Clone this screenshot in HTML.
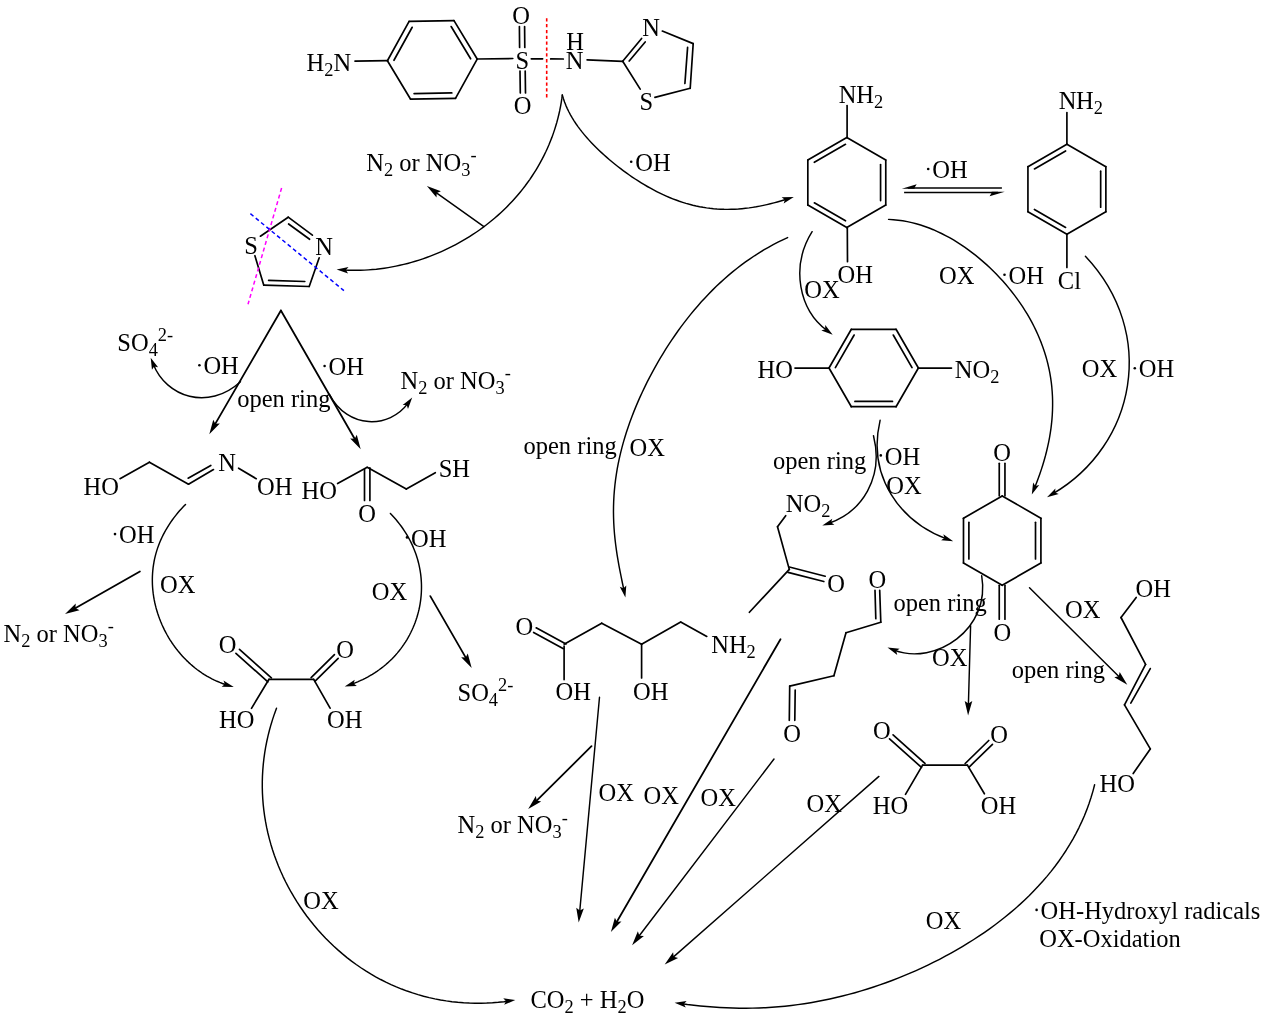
<!DOCTYPE html>
<html><head><meta charset="utf-8"><title>Degradation pathway</title>
<style>
html,body{margin:0;padding:0;background:#fff;}
svg{display:block;}
.t{filter:grayscale(1);}
text{font-family:"Liberation Serif",serif;fill:#000;}
</style></head><body>
<svg width="1266" height="1023" viewBox="0 0 1266 1023">
<rect width="1266" height="1023" fill="#fff"/>
<g>
<line x1="355.00" y1="61.20" x2="387.50" y2="60.70" stroke="#000" stroke-width="1.68" stroke-linecap="round"/>
<line x1="477.19" y1="59.04" x2="455.49" y2="98.35" stroke="#000" stroke-width="1.68" stroke-linecap="round"/>
<line x1="455.49" y1="98.35" x2="410.60" y2="99.21" stroke="#000" stroke-width="1.68" stroke-linecap="round"/>
<line x1="451.80" y1="92.92" x2="414.09" y2="93.64" stroke="#000" stroke-width="1.68" stroke-linecap="round"/>
<line x1="410.60" y1="99.21" x2="387.41" y2="60.76" stroke="#000" stroke-width="1.68" stroke-linecap="round"/>
<line x1="387.41" y1="60.76" x2="409.11" y2="21.45" stroke="#000" stroke-width="1.68" stroke-linecap="round"/>
<line x1="393.96" y1="60.28" x2="412.19" y2="27.26" stroke="#000" stroke-width="1.68" stroke-linecap="round"/>
<line x1="409.11" y1="21.45" x2="454.00" y2="20.59" stroke="#000" stroke-width="1.68" stroke-linecap="round"/>
<line x1="454.00" y1="20.59" x2="477.19" y2="59.04" stroke="#000" stroke-width="1.68" stroke-linecap="round"/>
<line x1="451.15" y1="26.51" x2="470.63" y2="58.80" stroke="#000" stroke-width="1.68" stroke-linecap="round"/>
<line x1="477.20" y1="59.00" x2="512.80" y2="58.50" stroke="#000" stroke-width="1.68" stroke-linecap="round"/>
<line x1="519.40" y1="26.50" x2="519.60" y2="47.50" stroke="#000" stroke-width="1.68" stroke-linecap="round"/>
<line x1="524.60" y1="26.50" x2="524.80" y2="47.50" stroke="#000" stroke-width="1.68" stroke-linecap="round"/>
<line x1="520.00" y1="71.00" x2="520.30" y2="93.00" stroke="#000" stroke-width="1.68" stroke-linecap="round"/>
<line x1="525.20" y1="71.00" x2="525.50" y2="93.00" stroke="#000" stroke-width="1.68" stroke-linecap="round"/>
<line x1="531.30" y1="58.80" x2="542.60" y2="58.80" stroke="#000" stroke-width="1.68" stroke-linecap="round"/>
<line x1="550.70" y1="58.90" x2="563.30" y2="59.00" stroke="#000" stroke-width="1.68" stroke-linecap="round"/>
<line x1="546.70" y1="18.20" x2="546.70" y2="97.40" stroke="#f00" stroke-width="1.6" stroke-linecap="butt" stroke-dasharray="3.3,2.54"/>
<line x1="587.10" y1="59.80" x2="622.70" y2="61.30" stroke="#000" stroke-width="1.68" stroke-linecap="round"/>
<line x1="622.70" y1="61.30" x2="641.60" y2="38.50" stroke="#000" stroke-width="1.68" stroke-linecap="round"/>
<line x1="629.20" y1="61.00" x2="645.20" y2="42.00" stroke="#000" stroke-width="1.68" stroke-linecap="round"/>
<line x1="662.30" y1="31.00" x2="693.20" y2="43.60" stroke="#000" stroke-width="1.68" stroke-linecap="round"/>
<line x1="693.20" y1="43.60" x2="690.20" y2="88.30" stroke="#000" stroke-width="1.68" stroke-linecap="round"/>
<line x1="687.60" y1="47.40" x2="684.90" y2="83.50" stroke="#000" stroke-width="1.68" stroke-linecap="round"/>
<line x1="690.20" y1="88.30" x2="654.90" y2="97.40" stroke="#000" stroke-width="1.68" stroke-linecap="round"/>
<line x1="640.20" y1="89.10" x2="622.70" y2="61.30" stroke="#000" stroke-width="1.68" stroke-linecap="round"/>
<path d="M562.30,95.00 L561.78,98.93 L561.17,102.85 L560.48,106.75 L559.70,110.65 L558.83,114.53 L557.88,118.39 L556.85,122.24 L555.73,126.06 L554.53,129.86 L553.25,133.63 L551.89,137.38 L550.45,141.09 L548.94,144.78 L547.34,148.43 L545.68,152.04 L543.93,155.62 L542.11,159.16 L540.22,162.67 L538.26,166.13 L536.23,169.55 L534.13,172.93 L531.96,176.26 L529.73,179.55 L527.42,182.79 L525.06,185.99 L522.63,189.13 L520.14,192.23 L517.58,195.28 L514.97,198.27 L512.30,201.21 L509.57,204.11 L506.79,206.94 L503.95,209.73 L501.06,212.45 L498.12,215.13 L495.12,217.75 L492.08,220.31 L488.99,222.81 L485.85,225.26 L482.67,227.64 L479.44,229.97 L476.17,232.24 L472.85,234.45 L469.50,236.60 L466.11,238.69 L462.68,240.71 L459.21,242.68 L455.71,244.58 L452.18,246.42 L448.61,248.20 L445.01,249.91 L441.38,251.56 L437.73,253.15 L434.04,254.67 L430.33,256.12 L426.60,257.51 L422.84,258.83 L419.06,260.08 L415.25,261.26 L411.43,262.38 L407.59,263.43 L403.73,264.40 L399.86,265.31 L395.97,266.14 L392.07,266.90 L388.15,267.59 L384.23,268.20 L380.29,268.74 L376.34,269.21 L372.39,269.59 L368.42,269.90 L364.46,270.13 L360.48,270.28 L356.51,270.34 L352.53,270.32 L348.55,270.22 L344.56,270.04 L343.60,269.88" fill="none" stroke="#000" stroke-width="1.45" stroke-linecap="round" stroke-linejoin="round"/>
<polygon points="336.60,269.40 348.50,266.91 345.94,270.04 348.05,273.50" fill="#000"/>
<path d="M562.30,95.00 L563.36,98.55 L564.55,101.99 L565.86,105.34 L567.30,108.59 L568.84,111.77 L570.48,114.87 L572.23,117.90 L574.06,120.86 L575.98,123.77 L577.98,126.61 L580.06,129.41 L582.21,132.15 L584.43,134.85 L586.70,137.50 L589.04,140.12 L591.43,142.69 L593.88,145.23 L596.37,147.72 L598.91,150.19 L601.50,152.62 L604.12,155.01 L606.78,157.38 L609.49,159.70 L612.22,162.00 L614.99,164.26 L617.79,166.48 L620.63,168.67 L623.49,170.82 L626.38,172.93 L629.30,175.00 L632.24,177.03 L635.22,179.02 L638.21,180.96 L641.24,182.85 L644.28,184.70 L647.35,186.50 L650.45,188.24 L653.57,189.93 L656.71,191.57 L659.88,193.14 L663.06,194.65 L666.28,196.10 L669.51,197.49 L672.77,198.80 L676.05,200.05 L679.35,201.23 L682.67,202.33 L686.02,203.36 L689.39,204.31 L692.77,205.18 L696.18,205.97 L699.61,206.68 L703.06,207.31 L706.53,207.86 L710.01,208.32 L713.51,208.70 L717.03,209.00 L720.56,209.21 L724.10,209.33 L727.66,209.37 L731.22,209.32 L734.79,209.20 L738.37,208.99 L741.95,208.70 L745.54,208.33 L749.12,207.89 L752.69,207.37 L756.26,206.79 L759.82,206.13 L763.36,205.41 L766.88,204.64 L770.38,203.80 L773.85,202.92 L777.29,201.99 L780.69,201.03 L784.04,200.03 L787.11,199.04" fill="none" stroke="#000" stroke-width="1.45" stroke-linecap="round" stroke-linejoin="round"/>
<polygon points="793.80,196.90 783.67,203.61 784.89,199.76 781.65,197.33" fill="#000"/>
<line x1="483.90" y1="226.60" x2="433.99" y2="191.05" stroke="#000" stroke-width="1.45" stroke-linecap="round"/>
<polygon points="426.90,186.00 440.91,191.32 436.70,192.98 436.51,197.51" fill="#000"/>
<circle cx="631.20" cy="161.80" r="1.3" fill="#000"/>
<line x1="260.40" y1="236.20" x2="288.20" y2="217.20" stroke="#000" stroke-width="1.68" stroke-linecap="round"/>
<line x1="288.20" y1="217.20" x2="312.40" y2="235.20" stroke="#000" stroke-width="1.68" stroke-linecap="round"/>
<line x1="288.60" y1="224.00" x2="309.60" y2="239.30" stroke="#000" stroke-width="1.68" stroke-linecap="round"/>
<line x1="319.20" y1="257.80" x2="309.20" y2="286.50" stroke="#000" stroke-width="1.68" stroke-linecap="round"/>
<line x1="309.20" y1="286.50" x2="263.80" y2="285.20" stroke="#000" stroke-width="1.68" stroke-linecap="round"/>
<line x1="304.80" y1="281.50" x2="268.60" y2="280.40" stroke="#000" stroke-width="1.68" stroke-linecap="round"/>
<line x1="263.80" y1="285.20" x2="254.90" y2="255.70" stroke="#000" stroke-width="1.68" stroke-linecap="round"/>
<line x1="281.60" y1="188.00" x2="248.00" y2="304.30" stroke="#f0f" stroke-width="1.5" stroke-linecap="butt" stroke-dasharray="4,2.9"/>
<line x1="250.40" y1="213.70" x2="343.90" y2="290.60" stroke="#00f" stroke-width="1.5" stroke-linecap="butt" stroke-dasharray="4,2.9"/>
<line x1="280.90" y1="310.50" x2="213.66" y2="426.67" stroke="#000" stroke-width="1.78" stroke-linecap="round"/>
<polygon points="209.30,434.20 213.28,419.75 215.33,423.78 219.85,423.55" fill="#000"/>
<line x1="280.90" y1="310.50" x2="356.36" y2="441.76" stroke="#000" stroke-width="1.78" stroke-linecap="round"/>
<polygon points="360.70,449.30 350.18,438.62 354.70,438.87 356.77,434.84" fill="#000"/>
<path d="M240.50,381.70 C207.93,411.32 166.23,396.84 153.29,364.23" fill="none" stroke="#000" stroke-width="1.45" stroke-linecap="round"/>
<polygon points="150.70,357.70 158.08,367.36 154.15,366.40 151.95,369.79" fill="#000"/>
<path d="M329.40,394.30 C347.69,429.50 389.47,428.80 408.08,403.18" fill="none" stroke="#000" stroke-width="1.45" stroke-linecap="round"/>
<polygon points="412.20,397.50 408.00,408.91 406.70,405.07 402.66,405.03" fill="#000"/>
<circle cx="199.40" cy="365.20" r="1.3" fill="#000"/>
<circle cx="324.60" cy="366.00" r="1.3" fill="#000"/>
<line x1="120.00" y1="478.70" x2="149.40" y2="462.20" stroke="#000" stroke-width="1.68" stroke-linecap="round"/>
<line x1="149.40" y1="462.20" x2="188.50" y2="484.20" stroke="#000" stroke-width="1.68" stroke-linecap="round"/>
<line x1="188.50" y1="484.20" x2="213.50" y2="469.60" stroke="#000" stroke-width="1.68" stroke-linecap="round"/>
<line x1="188.10" y1="478.20" x2="210.80" y2="465.40" stroke="#000" stroke-width="1.68" stroke-linecap="round"/>
<line x1="238.60" y1="468.20" x2="256.20" y2="478.70" stroke="#000" stroke-width="1.68" stroke-linecap="round"/>
<line x1="337.60" y1="483.60" x2="367.20" y2="467.30" stroke="#000" stroke-width="1.68" stroke-linecap="round"/>
<line x1="364.50" y1="469.50" x2="364.50" y2="500.50" stroke="#000" stroke-width="1.68" stroke-linecap="round"/>
<line x1="369.90" y1="467.80" x2="369.90" y2="500.50" stroke="#000" stroke-width="1.68" stroke-linecap="round"/>
<line x1="367.20" y1="467.30" x2="406.30" y2="489.00" stroke="#000" stroke-width="1.68" stroke-linecap="round"/>
<line x1="406.30" y1="489.00" x2="435.30" y2="472.70" stroke="#000" stroke-width="1.68" stroke-linecap="round"/>
<path d="M185.50,504.40 L183.47,506.51 L181.49,508.65 L179.54,510.84 L177.65,513.07 L175.80,515.34 L174.01,517.65 L172.27,520.00 L170.59,522.38 L168.98,524.81 L167.43,527.27 L165.94,529.76 L164.53,532.29 L163.18,534.85 L161.91,537.45 L160.72,540.08 L159.60,542.73 L158.55,545.41 L157.59,548.12 L156.71,550.86 L155.90,553.62 L155.18,556.39 L154.53,559.19 L153.97,562.01 L153.50,564.84 L153.10,567.69 L152.79,570.55 L152.56,573.42 L152.41,576.30 L152.34,579.18 L152.36,582.07 L152.45,584.96 L152.63,587.86 L152.89,590.75 L153.22,593.63 L153.64,596.51 L154.13,599.39 L154.70,602.25 L155.35,605.10 L156.07,607.93 L156.87,610.75 L157.73,613.55 L158.67,616.33 L159.68,619.09 L160.76,621.81 L161.91,624.52 L163.13,627.19 L164.41,629.83 L165.75,632.44 L167.16,635.01 L168.63,637.54 L170.16,640.03 L171.75,642.48 L173.40,644.89 L175.10,647.25 L176.87,649.57 L178.68,651.83 L180.55,654.04 L182.47,656.20 L184.45,658.31 L186.47,660.36 L188.55,662.35 L190.67,664.29 L192.84,666.16 L195.06,667.97 L197.32,669.72 L199.64,671.40 L201.99,673.02 L204.39,674.57 L206.84,676.05 L209.33,677.46 L211.87,678.81 L214.45,680.08 L217.08,681.29 L219.75,682.42 L222.47,683.48 L225.23,684.47 L227.07,685.01" fill="none" stroke="#000" stroke-width="1.45" stroke-linecap="round" stroke-linejoin="round"/>
<polygon points="233.80,687.00 221.64,686.85 224.82,684.35 223.51,680.52" fill="#000"/>
<path d="M390.40,513.40 L392.29,515.41 L394.14,517.47 L395.94,519.55 L397.69,521.68 L399.39,523.84 L401.05,526.05 L402.65,528.28 L404.19,530.56 L405.68,532.86 L407.10,535.21 L408.47,537.58 L409.78,539.99 L411.02,542.43 L412.20,544.90 L413.31,547.41 L414.35,549.93 L415.33,552.49 L416.24,555.07 L417.07,557.67 L417.84,560.30 L418.54,562.95 L419.16,565.61 L419.71,568.29 L420.18,570.99 L420.59,573.70 L420.92,576.42 L421.17,579.15 L421.35,581.89 L421.46,584.64 L421.49,587.38 L421.44,590.13 L421.33,592.88 L421.13,595.62 L420.86,598.36 L420.52,601.09 L420.11,603.82 L419.62,606.53 L419.05,609.23 L418.42,611.91 L417.71,614.57 L416.93,617.22 L416.08,619.84 L415.16,622.44 L414.17,625.01 L413.12,627.55 L411.99,630.06 L410.80,632.54 L409.54,634.99 L408.22,637.40 L406.83,639.77 L405.38,642.11 L403.87,644.40 L402.30,646.65 L400.67,648.85 L398.98,651.01 L397.23,653.12 L395.43,655.18 L393.57,657.19 L391.66,659.15 L389.70,661.06 L387.69,662.91 L385.63,664.71 L383.52,666.45 L381.37,668.14 L379.17,669.77 L376.93,671.34 L374.65,672.86 L372.34,674.31 L369.98,675.71 L367.59,677.05 L365.16,678.33 L362.70,679.55 L360.21,680.71 L357.68,681.82 L355.14,682.86 L352.56,683.86 L351.35,684.26" fill="none" stroke="#000" stroke-width="1.45" stroke-linecap="round" stroke-linejoin="round"/>
<polygon points="344.70,686.50 354.74,679.64 353.57,683.52 356.84,685.90" fill="#000"/>
<line x1="139.90" y1="571.40" x2="72.56" y2="609.70" stroke="#000" stroke-width="1.78" stroke-linecap="round"/>
<polygon points="65.00,614.00 75.73,603.53 75.46,608.05 79.48,610.13" fill="#000"/>
<line x1="430.30" y1="596.10" x2="467.35" y2="660.36" stroke="#000" stroke-width="1.78" stroke-linecap="round"/>
<polygon points="471.70,667.90 461.17,657.24 465.69,657.47 467.75,653.44" fill="#000"/>
<circle cx="115.00" cy="534.10" r="1.3" fill="#000"/>
<circle cx="407.00" cy="537.40" r="1.3" fill="#000"/>
<line x1="269.00" y1="679.30" x2="313.70" y2="679.30" stroke="#000" stroke-width="1.68" stroke-linecap="round"/>
<line x1="235.93" y1="653.27" x2="267.83" y2="681.87" stroke="#000" stroke-width="1.68" stroke-linecap="round"/>
<line x1="239.47" y1="649.33" x2="271.37" y2="677.93" stroke="#000" stroke-width="1.68" stroke-linecap="round"/>
<line x1="334.44" y1="654.61" x2="311.14" y2="677.61" stroke="#000" stroke-width="1.68" stroke-linecap="round"/>
<line x1="338.16" y1="658.39" x2="314.86" y2="681.39" stroke="#000" stroke-width="1.68" stroke-linecap="round"/>
<line x1="269.00" y1="679.30" x2="251.50" y2="708.40" stroke="#000" stroke-width="1.68" stroke-linecap="round"/>
<line x1="313.70" y1="679.30" x2="330.10" y2="708.20" stroke="#000" stroke-width="1.68" stroke-linecap="round"/>
<path d="M276.50,708.20 L274.52,713.64 L272.68,719.13 L270.98,724.67 L269.43,730.25 L268.02,735.86 L266.76,741.51 L265.65,747.19 L264.70,752.89 L263.91,758.61 L263.27,764.34 L262.79,770.09 L262.46,775.85 L262.30,781.61 L262.29,787.37 L262.44,793.12 L262.76,798.87 L263.22,804.61 L263.85,810.34 L264.63,816.04 L265.56,821.73 L266.65,827.38 L267.89,833.01 L269.28,838.61 L270.82,844.17 L272.51,849.69 L274.34,855.17 L276.31,860.59 L278.42,865.97 L280.68,871.30 L283.07,876.56 L285.59,881.77 L288.25,886.91 L291.04,891.98 L293.96,896.99 L297.00,901.91 L300.17,906.76 L303.46,911.52 L306.86,916.20 L310.39,920.80 L314.02,925.29 L317.78,929.70 L321.64,934.00 L325.60,938.20 L329.68,942.30 L333.85,946.29 L338.13,950.16 L342.50,953.92 L346.97,957.57 L351.53,961.09 L356.18,964.49 L360.92,967.76 L365.75,970.90 L370.65,973.91 L375.64,976.78 L380.70,979.52 L385.84,982.12 L391.05,984.57 L396.32,986.88 L401.66,989.05 L407.07,991.06 L412.52,992.93 L418.04,994.64 L423.60,996.20 L429.21,997.61 L434.86,998.86 L440.55,999.96 L446.27,1000.89 L452.01,1001.68 L457.78,1002.30 L463.57,1002.76 L469.37,1003.07 L475.17,1003.22 L480.97,1003.22 L486.76,1003.06 L492.53,1002.75 L498.28,1002.28 L504.00,1001.67 L508.34,1000.93" fill="none" stroke="#000" stroke-width="1.45" stroke-linecap="round" stroke-linejoin="round"/>
<polygon points="515.30,1000.00 504.14,1004.83 506.02,1001.24 503.27,998.29" fill="#000"/>
<line x1="846.80" y1="227.60" x2="807.83" y2="205.10" stroke="#000" stroke-width="1.68" stroke-linecap="round"/>
<line x1="845.50" y1="220.85" x2="814.33" y2="202.85" stroke="#000" stroke-width="1.68" stroke-linecap="round"/>
<line x1="807.83" y1="205.10" x2="807.83" y2="160.10" stroke="#000" stroke-width="1.68" stroke-linecap="round"/>
<line x1="807.83" y1="160.10" x2="846.80" y2="137.60" stroke="#000" stroke-width="1.68" stroke-linecap="round"/>
<line x1="814.33" y1="162.35" x2="845.50" y2="144.35" stroke="#000" stroke-width="1.68" stroke-linecap="round"/>
<line x1="846.80" y1="137.60" x2="885.77" y2="160.10" stroke="#000" stroke-width="1.68" stroke-linecap="round"/>
<line x1="885.77" y1="160.10" x2="885.77" y2="205.10" stroke="#000" stroke-width="1.68" stroke-linecap="round"/>
<line x1="880.57" y1="164.60" x2="880.57" y2="200.60" stroke="#000" stroke-width="1.68" stroke-linecap="round"/>
<line x1="885.77" y1="205.10" x2="846.80" y2="227.60" stroke="#000" stroke-width="1.68" stroke-linecap="round"/>
<line x1="847.10" y1="105.60" x2="847.10" y2="137.60" stroke="#000" stroke-width="1.68" stroke-linecap="round"/>
<line x1="847.30" y1="227.60" x2="847.50" y2="261.70" stroke="#000" stroke-width="1.68" stroke-linecap="round"/>
<line x1="1066.90" y1="234.15" x2="1027.93" y2="211.65" stroke="#000" stroke-width="1.68" stroke-linecap="round"/>
<line x1="1065.60" y1="227.40" x2="1034.43" y2="209.40" stroke="#000" stroke-width="1.68" stroke-linecap="round"/>
<line x1="1027.93" y1="211.65" x2="1027.93" y2="166.65" stroke="#000" stroke-width="1.68" stroke-linecap="round"/>
<line x1="1027.93" y1="166.65" x2="1066.90" y2="144.15" stroke="#000" stroke-width="1.68" stroke-linecap="round"/>
<line x1="1034.43" y1="168.90" x2="1065.60" y2="150.90" stroke="#000" stroke-width="1.68" stroke-linecap="round"/>
<line x1="1066.90" y1="144.15" x2="1105.87" y2="166.65" stroke="#000" stroke-width="1.68" stroke-linecap="round"/>
<line x1="1105.87" y1="166.65" x2="1105.87" y2="211.65" stroke="#000" stroke-width="1.68" stroke-linecap="round"/>
<line x1="1100.67" y1="171.15" x2="1100.67" y2="207.15" stroke="#000" stroke-width="1.68" stroke-linecap="round"/>
<line x1="1105.87" y1="211.65" x2="1066.90" y2="234.15" stroke="#000" stroke-width="1.68" stroke-linecap="round"/>
<line x1="1066.90" y1="112.50" x2="1066.90" y2="144.10" stroke="#000" stroke-width="1.68" stroke-linecap="round"/>
<line x1="1066.90" y1="234.20" x2="1066.90" y2="267.50" stroke="#000" stroke-width="1.68" stroke-linecap="round"/>
<line x1="908.00" y1="188.00" x2="1001.90" y2="188.00" stroke="#000" stroke-width="1.45" stroke-linecap="butt"/>
<polygon points="901.8,188.75 916.7,184.2 914.6,187.6 914.6,188.75" fill="#000"/>
<line x1="904.10" y1="192.40" x2="998.00" y2="192.40" stroke="#000" stroke-width="1.45" stroke-linecap="butt"/>
<polygon points="1004.8,191.65 989.6,196.2 991.7,192.8 991.7,191.65" fill="#000"/>
<circle cx="928.20" cy="169.00" r="1.3" fill="#000"/>
<circle cx="1004.50" cy="274.80" r="1.3" fill="#000"/>
<path d="M812.10,231.70 C789.99,267.25 799.44,310.16 827.05,330.53" fill="none" stroke="#000" stroke-width="1.45" stroke-linecap="round"/>
<polygon points="832.70,334.70 821.33,330.41 825.17,329.14 825.24,325.10" fill="#000"/>
<path d="M787.60,237.60 L782.77,239.82 L777.96,242.18 L773.18,244.66 L768.44,247.27 L763.74,249.99 L759.09,252.83 L754.50,255.77 L749.98,258.81 L745.52,261.95 L741.13,265.19 L736.81,268.51 L732.57,271.91 L728.40,275.40 L724.31,278.97 L720.29,282.61 L716.35,286.33 L712.48,290.11 L708.69,293.97 L704.98,297.88 L701.33,301.86 L697.76,305.90 L694.26,310.00 L690.83,314.15 L687.47,318.36 L684.17,322.62 L680.94,326.94 L677.78,331.30 L674.68,335.71 L671.64,340.17 L668.66,344.67 L665.75,349.22 L662.90,353.81 L660.11,358.44 L657.38,363.11 L654.72,367.83 L652.12,372.58 L649.58,377.37 L647.11,382.20 L644.70,387.06 L642.37,391.96 L640.10,396.90 L637.91,401.86 L635.79,406.86 L633.75,411.89 L631.78,416.95 L629.91,422.04 L628.11,427.16 L626.41,432.30 L624.80,437.47 L623.28,442.67 L621.86,447.88 L620.54,453.13 L619.33,458.39 L618.22,463.67 L617.22,468.97 L616.34,474.29 L615.57,479.62 L614.92,484.97 L614.39,490.33 L613.98,495.70 L613.69,501.09 L613.52,506.48 L613.47,511.87 L613.55,517.27 L613.74,522.68 L614.04,528.08 L614.46,533.49 L614.99,538.89 L615.62,544.28 L616.34,549.67 L617.15,555.05 L618.04,560.42 L619.00,565.78 L620.02,571.11 L621.08,576.44 L622.16,581.74 L623.26,587.02 L623.99,590.62" fill="none" stroke="#000" stroke-width="1.45" stroke-linecap="round" stroke-linejoin="round"/>
<polygon points="625.40,597.50 619.81,586.70 623.52,588.33 626.28,585.38" fill="#000"/>
<path d="M888.60,219.40 L893.39,219.69 L898.10,220.16 L902.74,220.81 L907.30,221.62 L911.79,222.61 L916.22,223.74 L920.58,225.03 L924.89,226.45 L929.14,228.02 L933.33,229.71 L937.47,231.54 L941.55,233.48 L945.59,235.54 L949.57,237.71 L953.50,239.98 L957.38,242.36 L961.21,244.84 L964.99,247.42 L968.72,250.08 L972.39,252.83 L976.01,255.67 L979.58,258.59 L983.08,261.59 L986.53,264.66 L989.92,267.81 L993.24,271.03 L996.50,274.32 L999.70,277.67 L1002.83,281.09 L1005.88,284.57 L1008.86,288.11 L1011.76,291.71 L1014.59,295.37 L1017.33,299.08 L1019.99,302.85 L1022.57,306.67 L1025.05,310.53 L1027.44,314.45 L1029.74,318.42 L1031.94,322.43 L1034.04,326.49 L1036.04,330.59 L1037.93,334.73 L1039.72,338.92 L1041.40,343.14 L1042.97,347.40 L1044.42,351.70 L1045.76,356.03 L1046.98,360.40 L1048.09,364.80 L1049.08,369.23 L1049.94,373.68 L1050.69,378.16 L1051.32,382.67 L1051.82,387.20 L1052.20,391.75 L1052.46,396.32 L1052.60,400.90 L1052.61,405.50 L1052.51,410.10 L1052.29,414.71 L1051.95,419.33 L1051.50,423.95 L1050.94,428.57 L1050.26,433.18 L1049.48,437.78 L1048.60,442.36 L1047.61,446.93 L1046.53,451.48 L1045.37,456.00 L1044.11,460.49 L1042.78,464.94 L1041.37,469.35 L1039.90,473.71 L1038.37,478.02 L1036.78,482.27 L1035.15,486.46 L1034.43,488.09" fill="none" stroke="#000" stroke-width="1.45" stroke-linecap="round" stroke-linejoin="round"/>
<polygon points="1031.80,494.60 1033.12,482.52 1035.31,485.92 1039.24,484.99" fill="#000"/>
<path d="M1085.40,256.30 C1158.13,333.47 1135.53,445.25 1053.05,493.65" fill="none" stroke="#000" stroke-width="1.45" stroke-linecap="round"/>
<polygon points="1047.00,497.20 1055.42,488.43 1055.07,492.46 1058.76,494.12" fill="#000"/>
<circle cx="1134.80" cy="368.30" r="1.3" fill="#000"/>
<line x1="795.00" y1="368.10" x2="829.00" y2="368.10" stroke="#000" stroke-width="1.68" stroke-linecap="round"/>
<line x1="918.40" y1="368.00" x2="896.05" y2="406.71" stroke="#000" stroke-width="1.68" stroke-linecap="round"/>
<line x1="896.05" y1="406.71" x2="851.35" y2="406.71" stroke="#000" stroke-width="1.68" stroke-linecap="round"/>
<line x1="892.47" y1="401.41" x2="854.93" y2="401.41" stroke="#000" stroke-width="1.68" stroke-linecap="round"/>
<line x1="851.35" y1="406.71" x2="829.00" y2="368.00" stroke="#000" stroke-width="1.68" stroke-linecap="round"/>
<line x1="829.00" y1="368.00" x2="851.35" y2="329.29" stroke="#000" stroke-width="1.68" stroke-linecap="round"/>
<line x1="835.38" y1="367.55" x2="854.15" y2="335.04" stroke="#000" stroke-width="1.68" stroke-linecap="round"/>
<line x1="851.35" y1="329.29" x2="896.05" y2="329.29" stroke="#000" stroke-width="1.68" stroke-linecap="round"/>
<line x1="896.05" y1="329.29" x2="918.40" y2="368.00" stroke="#000" stroke-width="1.68" stroke-linecap="round"/>
<line x1="893.25" y1="335.04" x2="912.02" y2="367.55" stroke="#000" stroke-width="1.68" stroke-linecap="round"/>
<line x1="918.40" y1="368.10" x2="951.50" y2="368.10" stroke="#000" stroke-width="1.68" stroke-linecap="round"/>
<circle cx="880.80" cy="455.40" r="1.3" fill="#000"/>
<path d="M880.10,420.30 C866.77,476.87 901.02,522.09 946.61,538.87" fill="none" stroke="#000" stroke-width="1.45" stroke-linecap="round"/>
<polygon points="953.20,541.30 941.08,540.35 944.42,538.07 943.36,534.16" fill="#000"/>
<path d="M873.50,435.70 C883.98,477.48 862.14,511.74 828.93,523.29" fill="none" stroke="#000" stroke-width="1.45" stroke-linecap="round"/>
<polygon points="822.30,525.60 832.27,518.64 831.14,522.52 834.43,524.87" fill="#000"/>
<line x1="785.70" y1="515.70" x2="777.50" y2="526.70" stroke="#000" stroke-width="1.68" stroke-linecap="round"/>
<line x1="777.50" y1="526.70" x2="789.30" y2="569.40" stroke="#000" stroke-width="1.68" stroke-linecap="round"/>
<line x1="788.02" y1="572.36" x2="823.82" y2="581.56" stroke="#000" stroke-width="1.68" stroke-linecap="round"/>
<line x1="789.38" y1="567.04" x2="825.18" y2="576.24" stroke="#000" stroke-width="1.68" stroke-linecap="round"/>
<line x1="789.30" y1="569.40" x2="749.40" y2="612.30" stroke="#000" stroke-width="1.68" stroke-linecap="round"/>
<line x1="1002.20" y1="585.30" x2="963.49" y2="562.95" stroke="#000" stroke-width="1.68" stroke-linecap="round"/>
<line x1="963.49" y1="562.95" x2="963.49" y2="518.25" stroke="#000" stroke-width="1.68" stroke-linecap="round"/>
<line x1="968.89" y1="558.93" x2="968.89" y2="522.27" stroke="#000" stroke-width="1.68" stroke-linecap="round"/>
<line x1="963.49" y1="518.25" x2="1002.20" y2="495.90" stroke="#000" stroke-width="1.68" stroke-linecap="round"/>
<line x1="1002.20" y1="495.90" x2="1040.91" y2="518.25" stroke="#000" stroke-width="1.68" stroke-linecap="round"/>
<line x1="1040.91" y1="518.25" x2="1040.91" y2="562.95" stroke="#000" stroke-width="1.68" stroke-linecap="round"/>
<line x1="1035.51" y1="522.27" x2="1035.51" y2="558.93" stroke="#000" stroke-width="1.68" stroke-linecap="round"/>
<line x1="1040.91" y1="562.95" x2="1002.20" y2="585.30" stroke="#000" stroke-width="1.68" stroke-linecap="round"/>
<line x1="999.25" y1="463.30" x2="999.25" y2="495.80" stroke="#000" stroke-width="1.68" stroke-linecap="round"/>
<line x1="1004.95" y1="463.30" x2="1004.95" y2="495.80" stroke="#000" stroke-width="1.68" stroke-linecap="round"/>
<line x1="999.25" y1="585.30" x2="999.25" y2="619.20" stroke="#000" stroke-width="1.68" stroke-linecap="round"/>
<line x1="1004.95" y1="585.30" x2="1004.95" y2="619.20" stroke="#000" stroke-width="1.68" stroke-linecap="round"/>
<path d="M981.70,575.80 C991.03,629.04 935.35,666.00 894.05,650.12" fill="none" stroke="#000" stroke-width="1.45" stroke-linecap="round"/>
<polygon points="887.50,647.60 899.60,648.72 896.24,650.96 897.24,654.88" fill="#000"/>
<line x1="970.60" y1="625.70" x2="968.34" y2="706.80" stroke="#000" stroke-width="1.45" stroke-linecap="round"/>
<polygon points="968.10,715.50 964.70,700.90 968.43,703.47 972.30,701.11" fill="#000"/>
<line x1="1029.50" y1="587.70" x2="1121.13" y2="678.67" stroke="#000" stroke-width="1.45" stroke-linecap="round"/>
<polygon points="1127.30,684.80 1114.33,677.28 1118.76,676.32 1119.69,671.89" fill="#000"/>
<line x1="533.63" y1="632.42" x2="563.43" y2="648.72" stroke="#000" stroke-width="1.68" stroke-linecap="round"/>
<line x1="536.17" y1="627.78" x2="565.97" y2="644.08" stroke="#000" stroke-width="1.68" stroke-linecap="round"/>
<line x1="564.10" y1="644.20" x2="601.70" y2="623.20" stroke="#000" stroke-width="1.68" stroke-linecap="round"/>
<line x1="601.70" y1="623.20" x2="641.60" y2="644.20" stroke="#000" stroke-width="1.68" stroke-linecap="round"/>
<line x1="641.60" y1="644.20" x2="680.70" y2="622.10" stroke="#000" stroke-width="1.68" stroke-linecap="round"/>
<line x1="680.70" y1="622.10" x2="706.80" y2="636.40" stroke="#000" stroke-width="1.68" stroke-linecap="round"/>
<line x1="564.10" y1="646.00" x2="564.10" y2="679.60" stroke="#000" stroke-width="1.68" stroke-linecap="round"/>
<line x1="641.60" y1="644.20" x2="641.60" y2="678.00" stroke="#000" stroke-width="1.68" stroke-linecap="round"/>
<line x1="599.50" y1="697.30" x2="579.50" y2="913.94" stroke="#000" stroke-width="1.45" stroke-linecap="round"/>
<polygon points="578.70,922.60 576.25,907.81 579.81,910.62 583.82,908.51" fill="#000"/>
<line x1="591.50" y1="746.20" x2="534.38" y2="802.87" stroke="#000" stroke-width="1.78" stroke-linecap="round"/>
<polygon points="528.20,809.00 535.82,796.09 536.74,800.52 541.17,801.49" fill="#000"/>
<line x1="780.50" y1="639.20" x2="615.26" y2="924.57" stroke="#000" stroke-width="1.78" stroke-linecap="round"/>
<polygon points="610.90,932.10 614.88,917.65 616.93,921.69 621.45,921.46" fill="#000"/>
<line x1="774.00" y1="759.00" x2="637.37" y2="938.28" stroke="#000" stroke-width="1.45" stroke-linecap="round"/>
<polygon points="632.10,945.20 637.87,931.36 639.39,935.63 643.91,935.97" fill="#000"/>
<line x1="878.90" y1="776.40" x2="671.24" y2="958.86" stroke="#000" stroke-width="1.45" stroke-linecap="round"/>
<polygon points="664.70,964.60 673.08,952.17 673.74,956.66 678.10,957.88" fill="#000"/>
<line x1="879.70" y1="590.30" x2="880.80" y2="622.20" stroke="#000" stroke-width="1.68" stroke-linecap="round"/>
<line x1="875.00" y1="590.30" x2="875.80" y2="618.70" stroke="#000" stroke-width="1.68" stroke-linecap="round"/>
<line x1="880.80" y1="622.20" x2="846.00" y2="632.70" stroke="#000" stroke-width="1.68" stroke-linecap="round"/>
<line x1="846.00" y1="632.70" x2="833.90" y2="675.80" stroke="#000" stroke-width="1.68" stroke-linecap="round"/>
<line x1="833.90" y1="675.80" x2="789.70" y2="686.10" stroke="#000" stroke-width="1.68" stroke-linecap="round"/>
<line x1="789.70" y1="686.10" x2="789.30" y2="720.30" stroke="#000" stroke-width="1.68" stroke-linecap="round"/>
<line x1="795.20" y1="690.00" x2="794.80" y2="720.30" stroke="#000" stroke-width="1.68" stroke-linecap="round"/>
<line x1="922.60" y1="765.10" x2="967.40" y2="765.10" stroke="#000" stroke-width="1.68" stroke-linecap="round"/>
<line x1="889.53" y1="738.77" x2="921.43" y2="767.37" stroke="#000" stroke-width="1.68" stroke-linecap="round"/>
<line x1="893.07" y1="734.83" x2="924.97" y2="763.43" stroke="#000" stroke-width="1.68" stroke-linecap="round"/>
<line x1="988.75" y1="740.50" x2="965.15" y2="763.50" stroke="#000" stroke-width="1.68" stroke-linecap="round"/>
<line x1="992.45" y1="744.30" x2="968.85" y2="767.30" stroke="#000" stroke-width="1.68" stroke-linecap="round"/>
<line x1="922.60" y1="765.10" x2="905.50" y2="794.30" stroke="#000" stroke-width="1.68" stroke-linecap="round"/>
<line x1="967.40" y1="765.10" x2="984.40" y2="793.80" stroke="#000" stroke-width="1.68" stroke-linecap="round"/>
<line x1="1136.20" y1="597.50" x2="1121.00" y2="617.50" stroke="#000" stroke-width="1.68" stroke-linecap="round"/>
<line x1="1121.00" y1="617.50" x2="1145.60" y2="664.40" stroke="#000" stroke-width="1.68" stroke-linecap="round"/>
<line x1="1145.60" y1="664.40" x2="1124.50" y2="704.80" stroke="#000" stroke-width="1.68" stroke-linecap="round"/>
<line x1="1150.30" y1="668.60" x2="1130.80" y2="703.10" stroke="#000" stroke-width="1.68" stroke-linecap="round"/>
<line x1="1124.50" y1="704.80" x2="1150.30" y2="748.90" stroke="#000" stroke-width="1.68" stroke-linecap="round"/>
<line x1="1150.30" y1="748.90" x2="1133.20" y2="773.50" stroke="#000" stroke-width="1.68" stroke-linecap="round"/>
<path d="M1094.60,784.80 L1092.96,791.09 L1091.11,797.33 L1089.06,803.52 L1086.82,809.64 L1084.40,815.69 L1081.79,821.66 L1079.00,827.56 L1076.05,833.36 L1072.93,839.08 L1069.65,844.70 L1066.22,850.23 L1062.64,855.66 L1058.93,860.99 L1055.07,866.22 L1051.08,871.35 L1046.97,876.37 L1042.74,881.29 L1038.39,886.11 L1033.93,890.83 L1029.37,895.45 L1024.70,899.96 L1019.94,904.38 L1015.08,908.69 L1010.14,912.91 L1005.11,917.03 L1000.01,921.05 L994.82,924.98 L989.57,928.81 L984.24,932.55 L978.86,936.20 L973.40,939.76 L967.89,943.23 L962.33,946.61 L956.71,949.91 L951.04,953.11 L945.32,956.23 L939.55,959.27 L933.74,962.22 L927.89,965.08 L922.00,967.86 L916.07,970.55 L910.10,973.16 L904.10,975.68 L898.07,978.12 L892.00,980.47 L885.90,982.73 L879.77,984.90 L873.62,986.99 L867.43,988.98 L861.22,990.89 L854.99,992.70 L848.73,994.42 L842.44,996.04 L836.13,997.56 L829.80,998.99 L823.45,1000.32 L817.08,1001.55 L810.68,1002.68 L804.27,1003.71 L797.84,1004.63 L791.39,1005.45 L784.93,1006.16 L778.45,1006.76 L771.96,1007.26 L765.46,1007.66 L758.95,1007.94 L752.43,1008.12 L745.90,1008.20 L739.37,1008.17 L732.84,1008.04 L726.31,1007.81 L719.79,1007.48 L713.28,1007.06 L706.77,1006.54 L700.29,1005.94 L693.82,1005.26 L687.38,1004.51 L681.56,1003.69" fill="none" stroke="#000" stroke-width="1.45" stroke-linecap="round" stroke-linejoin="round"/>
<polygon points="674.60,1002.80 686.62,1001.01 683.88,1003.99 685.79,1007.56" fill="#000"/>
<circle cx="1036.60" cy="909.90" r="1.3" fill="#000"/>
</g>
<g class="t">
<text x="306.50" y="71.05" font-size="24.5" text-anchor="start">H<tspan font-size="18.38" dy="4.90">2</tspan><tspan dy="-4.90">N</tspan></text>
<text x="522.30" y="69.35" font-size="24.5" text-anchor="middle">S</text>
<text x="521.20" y="24.15" font-size="24.5" text-anchor="middle">O</text>
<text x="522.70" y="113.95" font-size="24.5" text-anchor="middle">O</text>
<text x="574.60" y="69.35" font-size="24.5" text-anchor="middle">N</text>
<text x="575.20" y="49.95" font-size="24.5" text-anchor="middle">H</text>
<text x="651.10" y="36.35" font-size="24.5" text-anchor="middle">N</text>
<text x="646.40" y="109.55" font-size="24.5" text-anchor="middle">S</text>
<text x="366.30" y="171.05" font-size="24.5" text-anchor="start">N<tspan font-size="18.38" dy="4.90">2</tspan><tspan dy="-4.90"> or NO</tspan><tspan font-size="18.38" dy="4.90">3</tspan><tspan font-size="18.38" dy="-14.70">-</tspan></text>
<text x="635.20" y="170.95" font-size="24.5" text-anchor="start">OH</text>
<text x="251.00" y="253.55" font-size="24.5" text-anchor="middle">S</text>
<text x="324.00" y="254.75" font-size="24.5" text-anchor="middle">N</text>
<text x="117.30" y="350.85" font-size="24.5" text-anchor="start">SO<tspan font-size="18.38" dy="4.90">4</tspan><tspan font-size="18.38" dy="-14.70">2-</tspan></text>
<text x="203.40" y="374.35" font-size="24.5" text-anchor="start">OH</text>
<text x="328.60" y="375.15" font-size="24.5" text-anchor="start">OH</text>
<text x="237.20" y="406.55" font-size="24.5" text-anchor="start">open ring</text>
<text x="400.50" y="388.75" font-size="24.5" text-anchor="start">N<tspan font-size="18.38" dy="4.90">2</tspan><tspan dy="-4.90"> or NO</tspan><tspan font-size="18.38" dy="4.90">3</tspan><tspan font-size="18.38" dy="-14.70">-</tspan></text>
<text x="83.50" y="494.75" font-size="24.5" text-anchor="start">HO</text>
<text x="227.10" y="471.35" font-size="24.5" text-anchor="middle">N</text>
<text x="257.10" y="494.75" font-size="24.5" text-anchor="start">OH</text>
<text x="301.50" y="499.25" font-size="24.5" text-anchor="start">HO</text>
<text x="367.10" y="522.05" font-size="24.5" text-anchor="middle">O</text>
<text x="438.70" y="476.75" font-size="24.5" text-anchor="start">SH</text>
<text x="119.00" y="543.25" font-size="24.5" text-anchor="start">OH</text>
<text x="160.00" y="593.05" font-size="24.5" text-anchor="start">OX</text>
<text x="371.80" y="600.05" font-size="24.5" text-anchor="start">OX</text>
<text x="411.00" y="546.55" font-size="24.5" text-anchor="start">OH</text>
<text x="3.50" y="641.75" font-size="24.5" text-anchor="start">N<tspan font-size="18.38" dy="4.90">2</tspan><tspan dy="-4.90"> or NO</tspan><tspan font-size="18.38" dy="4.90">3</tspan><tspan font-size="18.38" dy="-14.70">-</tspan></text>
<text x="457.50" y="700.95" font-size="24.5" text-anchor="start">SO<tspan font-size="18.38" dy="4.90">4</tspan><tspan font-size="18.38" dy="-14.70">2-</tspan></text>
<text x="227.70" y="652.95" font-size="24.5" text-anchor="middle">O</text>
<text x="345.20" y="657.75" font-size="24.5" text-anchor="middle">O</text>
<text x="219.00" y="728.15" font-size="24.5" text-anchor="start">HO</text>
<text x="327.00" y="728.15" font-size="24.5" text-anchor="start">OH</text>
<text x="303.30" y="908.75" font-size="24.5" text-anchor="start">OX</text>
<text x="530.50" y="1008.25" font-size="24.5" text-anchor="start">CO<tspan font-size="18.38" dy="4.90">2</tspan><tspan dy="-4.90"> + H</tspan><tspan font-size="18.38" dy="4.90">2</tspan><tspan dy="-4.90">O</tspan></text>
<text x="847.70" y="103.05" font-size="24.5" text-anchor="middle">N</text>
<text x="856.20" y="103.05" font-size="24.5" text-anchor="start">H<tspan font-size="18.38" dy="4.90">2</tspan></text>
<text x="837.50" y="283.05" font-size="24.5" text-anchor="start">OH</text>
<text x="1067.50" y="109.35" font-size="24.5" text-anchor="middle">N</text>
<text x="1076.00" y="109.35" font-size="24.5" text-anchor="start">H<tspan font-size="18.38" dy="4.90">2</tspan></text>
<text x="1057.80" y="288.95" font-size="24.5" text-anchor="start">Cl</text>
<text x="932.20" y="178.15" font-size="24.5" text-anchor="start">OH</text>
<text x="939.10" y="283.95" font-size="24.5" text-anchor="start">OX</text>
<text x="1008.50" y="283.95" font-size="24.5" text-anchor="start">OH</text>
<text x="804.30" y="297.95" font-size="24.5" text-anchor="start">OX</text>
<text x="523.50" y="454.15" font-size="24.5" text-anchor="start">open ring</text>
<text x="629.50" y="455.55" font-size="24.5" text-anchor="start">OX</text>
<text x="1081.70" y="377.45" font-size="24.5" text-anchor="start">OX</text>
<text x="1138.80" y="377.45" font-size="24.5" text-anchor="start">OH</text>
<text x="757.50" y="377.95" font-size="24.5" text-anchor="start">HO</text>
<text x="954.80" y="377.95" font-size="24.5" text-anchor="start">NO<tspan font-size="18.38" dy="4.90">2</tspan></text>
<text x="773.00" y="468.75" font-size="24.5" text-anchor="start">open ring</text>
<text x="884.80" y="464.55" font-size="24.5" text-anchor="start">OH</text>
<text x="886.30" y="493.85" font-size="24.5" text-anchor="start">OX</text>
<text x="785.80" y="511.75" font-size="24.5" text-anchor="start">NO<tspan font-size="18.38" dy="4.90">2</tspan></text>
<text x="836.00" y="591.95" font-size="24.5" text-anchor="middle">O</text>
<text x="1002.10" y="461.15" font-size="24.5" text-anchor="middle">O</text>
<text x="1002.30" y="640.55" font-size="24.5" text-anchor="middle">O</text>
<text x="893.50" y="611.25" font-size="24.5" text-anchor="start">open ring</text>
<text x="932.10" y="666.35" font-size="24.5" text-anchor="start">OX</text>
<text x="1065.10" y="618.05" font-size="24.5" text-anchor="start">OX</text>
<text x="1011.70" y="678.25" font-size="24.5" text-anchor="start">open ring</text>
<text x="524.30" y="634.55" font-size="24.5" text-anchor="middle">O</text>
<text x="711.20" y="653.35" font-size="24.5" text-anchor="start">NH<tspan font-size="18.38" dy="4.90">2</tspan></text>
<text x="555.50" y="700.25" font-size="24.5" text-anchor="start">OH</text>
<text x="633.00" y="700.25" font-size="24.5" text-anchor="start">OH</text>
<text x="457.50" y="833.35" font-size="24.5" text-anchor="start">N<tspan font-size="18.38" dy="4.90">2</tspan><tspan dy="-4.90"> or NO</tspan><tspan font-size="18.38" dy="4.90">3</tspan><tspan font-size="18.38" dy="-14.70">-</tspan></text>
<text x="598.50" y="800.75" font-size="24.5" text-anchor="start">OX</text>
<text x="643.50" y="803.75" font-size="24.5" text-anchor="start">OX</text>
<text x="700.50" y="805.75" font-size="24.5" text-anchor="start">OX</text>
<text x="806.50" y="811.75" font-size="24.5" text-anchor="start">OX</text>
<text x="877.30" y="588.25" font-size="24.5" text-anchor="middle">O</text>
<text x="792.00" y="741.75" font-size="24.5" text-anchor="middle">O</text>
<text x="881.90" y="738.85" font-size="24.5" text-anchor="middle">O</text>
<text x="999.00" y="743.45" font-size="24.5" text-anchor="middle">O</text>
<text x="872.80" y="814.45" font-size="24.5" text-anchor="start">HO</text>
<text x="980.80" y="814.45" font-size="24.5" text-anchor="start">OH</text>
<text x="1135.50" y="597.15" font-size="24.5" text-anchor="start">OH</text>
<text x="1099.50" y="791.85" font-size="24.5" text-anchor="start">HO</text>
<text x="925.80" y="928.95" font-size="24.5" text-anchor="start">OX</text>
<text x="1040.60" y="919.05" font-size="24.5" text-anchor="start">OH-Hydroxyl radicals</text>
<text x="1039.20" y="947.35" font-size="24.5" text-anchor="start">OX-Oxidation</text>
</g>
</svg>
</body></html>
